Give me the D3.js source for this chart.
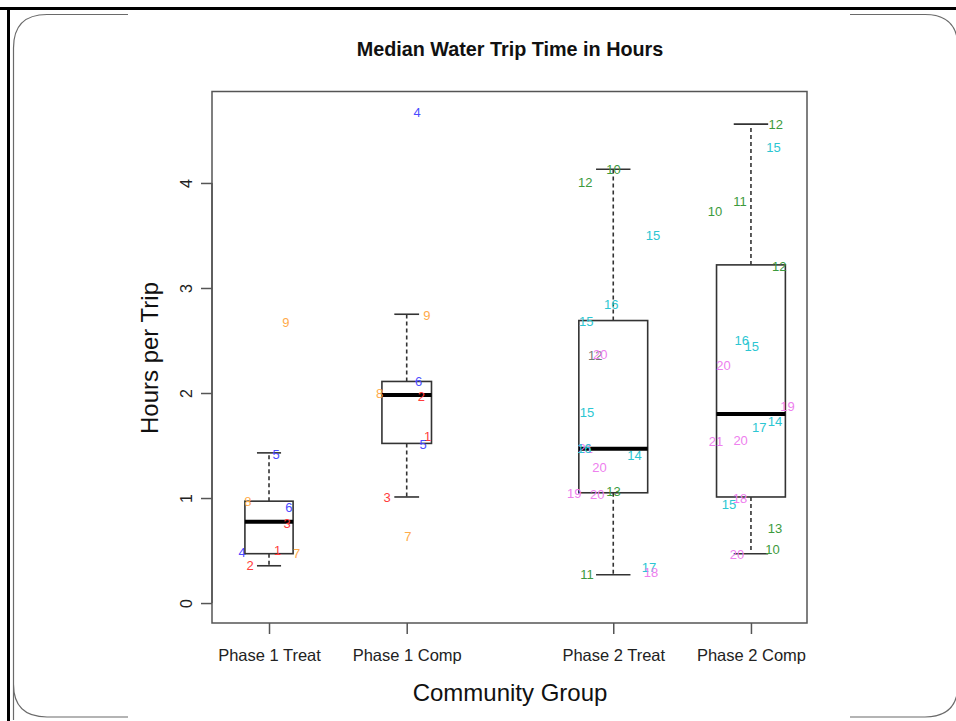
<!DOCTYPE html>
<html>
<head>
<meta charset="utf-8">
<script src="https://cdn.jsdelivr.net/npm/d3@7"></script>
<style>
  html, body { margin: 0; padding: 0; background: #fff; }
  svg { display: block; font-family: "Liberation Sans", Arial, sans-serif; }
</style>
</head>
<body>
<svg width="956" height="721"></svg>
<script>
// groups and their x positions on the axis
const groups = ["Phase 1 Treat", "Phase 1 Comp", "Phase 2 Treat", "Phase 2 Comp"];
const groupPos = [1, 2, 3.5, 4.5];
const boxWidths = [0.35, 0.36, 0.5, 0.5];

// box stats: lower whisker, Q1, median, Q3, upper whisker
const lowerWhisker = [0.355, 1.01, 0.27, 0.47];
const q1 = [0.47, 1.52, 1.05, 1.01];
const medians = [0.775, 1.98, 1.47, 1.80];
const q3 = [0.97, 2.11, 2.69, 3.22];
const upperWhisker = [1.43, 2.75, 4.13, 4.56];

const yTicks = [0, 1, 2, 3, 4];

// labelled points: jittered x position, value, label, colour key
const ptX = [
  1.123, 1.051, 0.847, 1.145, 1.131, 1.063, 0.804, 1.201, 0.862,
  2.075, 2.147, 2.087, 1.804, 2.107, 2.151, 2.119, 1.857, 2.009,
  3.502, 3.297, 3.789, 3.485, 3.304, 3.369, 3.405, 3.309, 3.300, 3.290, 3.654, 3.400, 3.217, 3.383, 3.502, 3.309, 3.760, 3.774,
  4.680, 4.663, 4.420, 4.239, 4.706, 4.433, 4.506, 4.300, 4.765, 4.675, 4.561, 4.246, 4.425, 4.420, 4.340, 4.675, 4.656, 4.399
];
const ptY = [
  2.67, 1.42, 0.97, 0.91, 0.76, 0.50, 0.48, 0.47, 0.355,
  4.67, 2.74, 2.11, 2.00, 1.97, 1.59, 1.51, 1.01, 0.64,
  4.13, 4.01, 3.50, 2.84, 2.68, 2.36, 2.37, 1.82, 1.47, 1.47, 1.41, 1.29, 1.045, 1.035, 1.06, 0.27, 0.34, 0.29,
  4.56, 4.34, 3.83, 3.73, 3.21, 2.50, 2.44, 2.26, 1.87, 1.73, 1.67, 1.54, 1.55, 1.00, 0.94, 0.71, 0.51, 0.46
];
const ptLabel = [
  "9", "5", "8", "6", "3", "1", "4", "7", "2",
  "4", "9", "6", "8", "2", "1", "5", "3", "7",
  "10", "12", "15", "16", "15", "12", "20", "15", "21", "16", "14", "20", "19", "20", "13", "11", "17", "18",
  "12", "15", "11", "10", "12", "16", "15", "20", "19", "14", "17", "21", "20", "18", "15", "13", "10", "20"
];
const ptColor = [
  "o", "b", "o", "b", "r", "r", "b", "o", "r",
  "b", "o", "b", "o", "r", "r", "b", "r", "o",
  "g", "g", "c", "c", "c", "k", "m", "c", "m", "c", "c", "m", "m", "m", "g", "g", "c", "m",
  "g", "c", "g", "g", "g", "c", "c", "m", "m", "c", "c", "m", "m", "m", "c", "g", "g", "m"
];
const palette = { r: "#ff3b3b", b: "#4b4bff", o: "#ffab4a", g: "#3c9a3c", c: "#2cc6d2", m: "#ee80ee", k: "#777777" };

const svg = d3.select("svg");

// slide frame
const frame = svg.append("g");
frame.append("path")
  .attr("d", "M 13.5 720 L 13.5 48 Q 13.5 14.5 47 14.5 L 925 14.5 Q 958 14.5 958 48 L 958 684 Q 958 717 925 717 L 47 717 Q 13.5 717 13.5 684")
  .attr("fill", "none")
  .attr("stroke", "#6a6a6a")
  .attr("stroke-width", 1.2);
frame.append("rect")
  .attr("x", 128).attr("y", 11).attr("width", 722).attr("height", 712)
  .attr("fill", "#fff");
frame.append("line")
  .attr("x1", 0).attr("x2", 956).attr("y1", 8.5).attr("y2", 8.5)
  .attr("stroke", "#000").attr("stroke-width", 3);
frame.append("line")
  .attr("x1", 8.5).attr("x2", 8.5).attr("y1", 7).attr("y2", 721)
  .attr("stroke", "#000").attr("stroke-width", 3);

// plot region
const plot = { left: 212, right: 807, top: 91.5, bottom: 623 };

const x = d3.scaleLinear()
  .domain([0.586, 4.907])
  .range([plot.left, plot.right]);

const y = d3.scaleLinear()
  .domain([-0.19, 4.871])
  .range([plot.bottom, plot.top]);

const unit = x(1) - x(0);

// boxes and whiskers
const g = svg.append("g");
groups.forEach((name, i) => {
  const cx = x(groupPos[i]);
  const halfBox = boxWidths[i] * unit / 2;
  const halfCap = halfBox / 2;

  g.append("line")
    .attr("x1", cx).attr("x2", cx)
    .attr("y1", y(q3[i])).attr("y2", y(upperWhisker[i]))
    .attr("stroke", "#333").attr("stroke-width", 1.6)
    .attr("stroke-dasharray", "4,3");
  g.append("line")
    .attr("x1", cx).attr("x2", cx)
    .attr("y1", y(q1[i])).attr("y2", y(lowerWhisker[i]))
    .attr("stroke", "#333").attr("stroke-width", 1.6)
    .attr("stroke-dasharray", "4,3");

  [upperWhisker[i], lowerWhisker[i]].forEach(v => {
    g.append("line")
      .attr("x1", cx - halfCap).attr("x2", cx + halfCap)
      .attr("y1", y(v)).attr("y2", y(v))
      .attr("stroke", "#333").attr("stroke-width", 1.6);
  });

  g.append("rect")
    .attr("x", cx - halfBox)
    .attr("y", y(q3[i]))
    .attr("width", halfBox * 2)
    .attr("height", y(q1[i]) - y(q3[i]))
    .attr("fill", "none")
    .attr("stroke", "#333")
    .attr("stroke-width", 1.6);

  g.append("line")
    .attr("x1", cx - halfBox).attr("x2", cx + halfBox)
    .attr("y1", y(medians[i])).attr("y2", y(medians[i]))
    .attr("stroke", "#000").attr("stroke-width", 4);
});

// point labels
svg.append("g").selectAll("text")
  .data(ptX.map((px, i) => ({ px, v: ptY[i], label: ptLabel[i], col: ptColor[i] })))
  .enter().append("text")
  .attr("x", d => x(d.px))
  .attr("y", d => y(d.v))
  .attr("dy", "0.36em")
  .attr("text-anchor", "middle")
  .attr("font-size", "13px")
  .attr("fill", d => palette[d.col])
  .text(d => d.label);

// plot frame
svg.append("rect")
  .attr("x", plot.left).attr("y", plot.top)
  .attr("width", plot.right - plot.left)
  .attr("height", plot.bottom - plot.top)
  .attr("fill", "none")
  .attr("stroke", "#555")
  .attr("stroke-width", 1.5);

// y axis
const yAxis = svg.append("g")
  .attr("transform", `translate(${plot.left},0)`)
  .call(d3.axisLeft(y).tickValues(yTicks).tickSize(11).tickFormat(d3.format("d")));
yAxis.select(".domain")
  .attr("d", `M0,${y(0)}V${y(4)}`)
  .attr("stroke", "#555").attr("stroke-width", 1.5);
yAxis.selectAll(".tick line").attr("stroke", "#555").attr("stroke-width", 1.5);
yAxis.selectAll(".tick text")
  .attr("font-family", "\"Liberation Sans\", Arial, sans-serif")
  .attr("font-size", "16px")
  .attr("fill", "#222")
  .attr("x", 0).attr("dy", 0)
  .attr("text-anchor", "middle")
  .attr("transform", "translate(-26,0) rotate(-90)")
  .attr("y", 5.5);

// x axis (ticks only)
const xAxis = svg.append("g")
  .attr("transform", `translate(0,${plot.bottom})`)
  .call(d3.axisBottom(x).tickValues(groupPos).tickSize(11).tickFormat((d, i) => groups[i]));
xAxis.select(".domain").remove();
xAxis.selectAll(".tick line").attr("stroke", "#555").attr("stroke-width", 1.5);
xAxis.selectAll(".tick text")
  .attr("font-family", "\"Liberation Sans\", Arial, sans-serif")
  .attr("font-size", "16.5px")
  .attr("fill", "#222")
  .attr("dy", 0)
  .attr("y", 38);

// titles
svg.append("text")
  .attr("x", 510)
  .attr("y", 56)
  .attr("text-anchor", "middle")
  .attr("font-size", "19.8px")
  .attr("font-weight", "bold")
  .attr("fill", "#111")
  .text("Median Water Trip Time in Hours");

svg.append("text")
  .attr("x", 510)
  .attr("y", 701)
  .attr("text-anchor", "middle")
  .attr("font-size", "24px")
  .attr("fill", "#111")
  .text("Community Group");

svg.append("text")
  .attr("transform", "translate(158,358) rotate(-90)")
  .attr("text-anchor", "middle")
  .attr("font-size", "24px")
  .attr("fill", "#111")
  .text("Hours per Trip");
</script>
</body>
</html>
